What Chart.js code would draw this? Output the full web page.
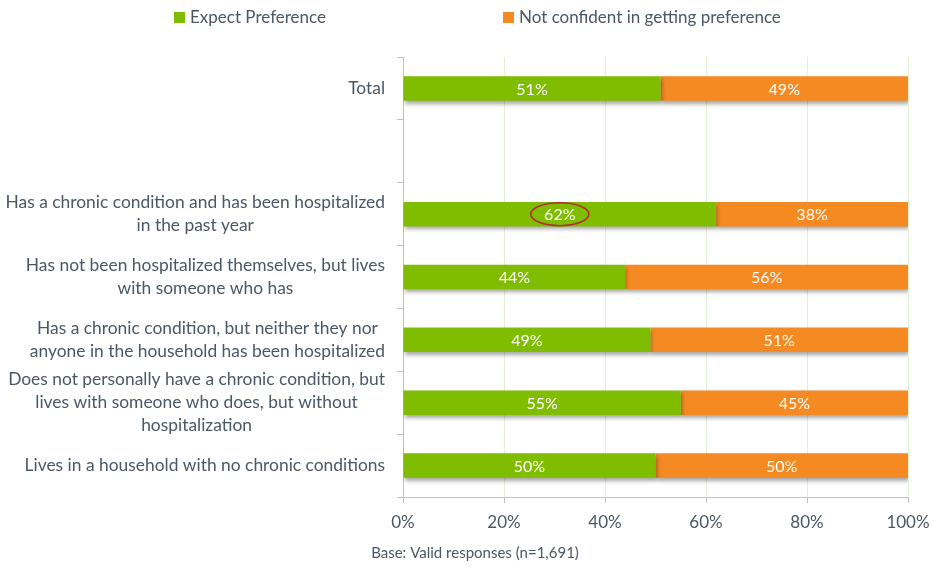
<!DOCTYPE html>
<html>
<head>
<meta charset="utf-8">
<script src="https://cdn.jsdelivr.net/npm/chart.js@4.4.0/dist/chart.umd.min.js"></script>
<style>
  html, body { margin: 0; padding: 0; background: #fff; }
  #wrap { position: relative; width: 932px; height: 567px; }
</style>
</head>
<body>
<div id="wrap"><canvas id="prefChart"></canvas></div>
<script>
const categories = [
  ["Total"],
  [""],
  ["Has a chronic condition and has been hospitalized", "in the past year"],
  ["Has not been hospitalized themselves, but lives", "with someone who has"],
  ["Has a chronic condition, but neither they nor", "anyone in the household has been hospitalized"],
  ["Does not personally have a chronic condition, but", "lives with someone who does, but without", "hospitalization"],
  ["Lives in a household with no chronic conditions"]
];
const expectPref = [51, null, 62, 44, 49, 55, 50];
const notConfident = [49, null, 38, 56, 51, 45, 50];
const seriesNames = ["Expect Preference", "Not confident in getting preference"];
const seriesColors = ["#80bd01", "#f58a23"];
const footnote = "Base: Valid responses (n=1,691)";
const circledRow = 2;

const FONT = "Lato, 'Open Sans', sans-serif";
const TEXT = "#4a5866";

const barShadow = {
  id: "barShadow",
  beforeDatasetsDraw(chart) {
    const ctx = chart.ctx;
    ctx.save();
    ctx.shadowColor = "rgba(0,0,0,0.35)";
    ctx.shadowBlur = 4;
    ctx.shadowOffsetX = 1;
    ctx.shadowOffsetY = 3;
  },
  afterDatasetsDraw(chart) {
    chart.ctx.restore();
  }
};

const annotations = {
  id: "annotations",
  afterDraw(chart) {
    const ctx = chart.ctx;
    const area = chart.chartArea;
    const yScale = chart.scales.y;

    // category labels: block right aligned, lines centred
    ctx.save();
    ctx.font = "17.4px " + FONT;
    ctx.fillStyle = TEXT;
    ctx.textAlign = "center";
    ctx.textBaseline = "middle";
    const right = area.left - 18;
    const lineH = 23;
    categories.forEach((lines, i) => {
      const cy = yScale.getPixelForValue(i);
      const w = Math.max(...lines.map(l => ctx.measureText(l).width));
      const cx = right - w / 2;
      const top = cy - (lines.length - 1) * lineH / 2;
      lines.forEach((l, j) => ctx.fillText(l, cx, top + j * lineH));
    });
    ctx.restore();

    // value labels
    ctx.save();
    ctx.font = "16px " + FONT;
    ctx.fillStyle = "#ffffff";
    ctx.textAlign = "center";
    ctx.textBaseline = "middle";
    chart.data.datasets.forEach((ds, di) => {
      const meta = chart.getDatasetMeta(di);
      meta.data.forEach((bar, i) => {
        if (ds.data[i] == null) return;
        const p = bar.getProps(["x", "y", "base"], true);
        const cx = (p.x + p.base) / 2;
        ctx.fillText(ds.data[i] + "%", cx, p.y + 1);
        if (di === 0 && i === circledRow) {
          ctx.save();
          ctx.strokeStyle = "#b5282e";
          ctx.lineWidth = 1.5;
          ctx.beginPath();
          ctx.ellipse(cx, p.y, 29, 11.5, 0, 0, Math.PI * 2);
          ctx.stroke();
          ctx.restore();
        }
      });
    });
    ctx.restore();

    // legend
    ctx.save();
    ctx.font = "17px " + FONT;
    ctx.textBaseline = "middle";
    ctx.textAlign = "left";
    const legendX = [174, 503];
    seriesNames.forEach((name, i) => {
      ctx.fillStyle = seriesColors[i];
      ctx.fillRect(legendX[i], 12, 11, 11);
      ctx.fillStyle = TEXT;
      ctx.fillText(name, legendX[i] + 16, 17.5);
    });
    ctx.restore();

    // footnote
    ctx.save();
    ctx.font = "15px " + FONT;
    ctx.fillStyle = TEXT;
    ctx.textAlign = "center";
    ctx.textBaseline = "middle";
    ctx.fillText(footnote, 475, 553);
    ctx.restore();
  }
};

new Chart(document.getElementById("prefChart"), {
  type: "bar",
  data: {
    labels: categories,
    datasets: [
      {
        label: seriesNames[0],
        data: expectPref,
        backgroundColor: seriesColors[0],
        barPercentage: 0.39,
        categoryPercentage: 1
      },
      {
        label: seriesNames[1],
        data: notConfident,
        backgroundColor: seriesColors[1],
        barPercentage: 0.39,
        categoryPercentage: 1
      }
    ]
  },
  options: {
    indexAxis: "y",
    responsive: true,
    maintainAspectRatio: false,
    animation: false,
    layout: { padding: { top: 57, right: 24, left: 0, bottom: 0 } },
    plugins: {
      legend: { display: false },
      tooltip: { enabled: false }
    },
    scales: {
      x: {
        stacked: true,
        min: 0,
        max: 100,
        ticks: {
          stepSize: 20,
          callback: v => v + "%",
          color: TEXT,
          font: { family: FONT, size: 17 },
          padding: 9
        },
        grid: {
          color: "#e3f0d3",
          tickColor: "#bfbfbf",
          tickLength: 6
        },
        border: { color: "#bfbfbf" },
        afterFit: s => { s.height = 70; s.paddingRight = 0; s.paddingLeft = 0; }
      },
      y: {
        stacked: true,
        ticks: { display: false },
        grid: {
          drawOnChartArea: false,
          color: "#bfbfbf",
          tickLength: 6
        },
        border: { color: "#bfbfbf" },
        afterFit: s => { s.width = 403; }
      }
    }
  },
  plugins: [barShadow, annotations]
});
</script>
</body>
</html>
